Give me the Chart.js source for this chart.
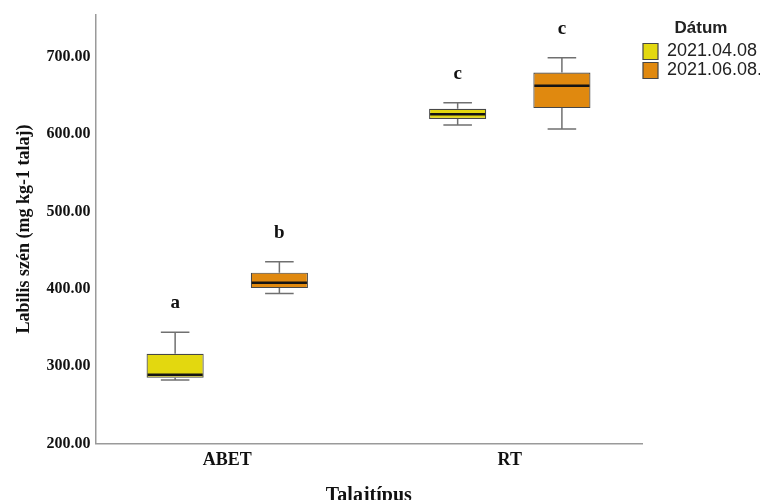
<!DOCTYPE html>
<html>
<head>
<meta charset="utf-8">
<script src="https://cdn.jsdelivr.net/npm/chart.js@4.4.1/dist/chart.umd.min.js"></script>
<style>
  html, body { margin: 0; padding: 0; background: #fff; overflow: hidden; }
  #wrap { width: 760px; height: 508px; }
</style>
</head>
<body>
<div id="wrap"><canvas id="boxChart"></canvas></div>
<script>
const categories = ['ABET', 'RT'];
const dates = ['2021.04.08', '2021.06.08.'];

// box plot statistics, one value per category (ABET, RT)
const minApr = [282, 612];
const q1Apr = [285, 620];
const medianApr = [289, 626];
const q3Apr = [316, 633];
const maxApr = [344, 641];
const lettersApr = ['a', 'c'];

const minJun = [394, 607];
const q1Jun = [401, 634];
const medianJun = [408, 663];
const q3Jun = [421, 680];
const maxJun = [435, 699];
const lettersJun = ['b', 'c'];

const yTicks = [200, 300, 400, 500, 600, 700];

const serif = '"Liberation Serif", "Times New Roman", serif';
const sans = '"Liberation Sans", Arial, sans-serif';

function boxData(q1, q3) {
    return categories.map((c, i) => ({x: i + 1, y: [q1[i], q3[i]]}));
}

// whiskers, medians and letters on top of the floating bars
const boxParts = {
    id: 'boxParts',
    afterDatasetsDraw(chart) {
        const ctx = chart.ctx;
        const yScale = chart.scales.y;
        chart.data.datasets.forEach((ds, d) => {
            const meta = chart.getDatasetMeta(d);
            meta.data.forEach((bar, i) => {
                const x = bar.x;
                const half = bar.width / 2;
                const cap = bar.width / 4;
                const yMin = yScale.getPixelForValue(ds.stats.min[i]);
                const yQ1 = yScale.getPixelForValue(ds.stats.q1[i]);
                const yMed = yScale.getPixelForValue(ds.stats.median[i]);
                const yQ3 = yScale.getPixelForValue(ds.stats.q3[i]);
                const yMax = yScale.getPixelForValue(ds.stats.max[i]);

                ctx.save();
                ctx.strokeStyle = '#707070';
                ctx.lineWidth = 1.5;
                ctx.beginPath();
                ctx.moveTo(x, yQ3); ctx.lineTo(x, yMax);
                ctx.moveTo(x - cap, yMax); ctx.lineTo(x + cap, yMax);
                ctx.moveTo(x, yQ1); ctx.lineTo(x, yMin);
                ctx.moveTo(x - cap, yMin); ctx.lineTo(x + cap, yMin);
                ctx.stroke();

                ctx.strokeStyle = '#141414';
                ctx.lineWidth = 2.5;
                ctx.beginPath();
                ctx.moveTo(x - half + 1, yMed); ctx.lineTo(x + half - 1, yMed);
                ctx.stroke();

                ctx.fillStyle = '#111';
                ctx.font = 'bold 19px ' + serif;
                ctx.textAlign = 'center';
                ctx.textBaseline = 'middle';
                ctx.fillText(ds.stats.letters[i], x, yMax - 29);
                ctx.restore();
            });
        });
    }
};

const ctx = document.getElementById('boxChart').getContext('2d');
const chart = new Chart(ctx, {
    type: 'bar',
    data: {
        datasets: [{
            label: dates[0],
            data: boxData(q1Apr, q3Apr),
            stats: {min: minApr, q1: q1Apr, median: medianApr, q3: q3Apr, max: maxApr, letters: lettersApr},
            backgroundColor: '#e3d80f',
            borderColor: '#474747',
            borderWidth: 1.2,
            borderSkipped: false
        }, {
            label: dates[1],
            data: boxData(q1Jun, q3Jun),
            stats: {min: minJun, q1: q1Jun, median: medianJun, q3: q3Jun, max: maxJun, letters: lettersJun},
            backgroundColor: '#e0890f',
            borderColor: '#474747',
            borderWidth: 1.2,
            borderSkipped: false
        }]
    },
    options: {
        responsive: true,
        maintainAspectRatio: false,
        animation: false,
        layout: {padding: {top: 13, left: 0, right: 0, bottom: 0}},
        datasets: {
            bar: {categoryPercentage: 0.738, barPercentage: 0.548}
        },
        scales: {
            x: {
                type: 'linear',
                offset: false,
                min: 0.534,
                max: 2.468,
                afterBuildTicks: (axis) => {
                    axis.ticks = categories.map((c, i) => ({value: i + 1}));
                },
                ticks: {
                    callback: (value) => categories[value - 1],
                    font: {family: serif, size: 18, weight: 'bold'},
                    color: '#111',
                    padding: 6
                },
                grid: {display: false, drawTicks: false},
                border: {color: '#9a9a9a', width: 1.5},
                title: {
                    display: true,
                    text: 'Talajtípus',
                    font: {family: serif, size: 20, weight: 'bold'},
                    color: '#111',
                    padding: {top: 7, bottom: 0}
                }
            },
            y: {
                min: 200,
                max: 755,
                afterBuildTicks: (axis) => {
                    axis.ticks = yTicks.map((v) => ({value: v}));
                },
                ticks: {
                    callback: (value) => value.toFixed(2),
                    font: {family: serif, size: 16, weight: 'bold'},
                    color: '#111',
                    padding: 5
                },
                grid: {display: false, drawTicks: false},
                border: {color: '#9a9a9a', width: 1.5},
                title: {
                    display: true,
                    text: 'Labilis szén (mg kg-1 talaj)',
                    font: {family: serif, size: 18, weight: 'bold'},
                    color: '#111',
                    padding: {top: 14, bottom: 6}
                }
            }
        },
        plugins: {
            legend: {
                position: 'right',
                align: 'start',
                maxWidth: 118,
                labels: {
                    boxWidth: 15,
                    boxHeight: 16,
                    padding: 1,
                    color: '#222',
                    font: {family: sans, size: 18}
                },
                title: {
                    display: true,
                    text: 'Dátum',
                    color: '#222',
                    font: {family: sans, size: 17, weight: 'bold'},
                    padding: {top: 6.5, bottom: 1.6}
                }
            },
            tooltip: {enabled: false}
        }
    },
    plugins: [boxParts]
});
</script>
</body>
</html>
